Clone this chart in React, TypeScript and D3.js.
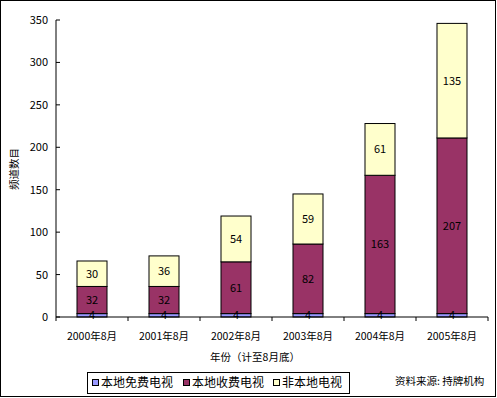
import React from "react";
import * as d3 from "d3";

const categories = ["2000年8月", "2001年8月", "2002年8月", "2003年8月", "2004年8月", "2005年8月"];
const seriesNames = ["本地免费电视", "本地收费电视", "非本地电视"];
const freeLocal = [4, 4, 4, 4, 4, 4];
const payLocal = [32, 32, 61, 82, 163, 207];
const nonLocal = [30, 36, 54, 59, 61, 135];
const yTicks = [0, 50, 100, 150, 200, 250, 300, 350];
const colors = ["#9999FF", "#993366", "#FFFFCC"];

const W = 497;
const H = 398;
const FONT = "'Noto Sans CJK SC', 'DejaVu Sans', sans-serif";

export default function App() {
  const x0 = 56, x1 = 488, yTop = 20, yBot = 317;
  const x = d3.scaleBand<string>().domain(categories).range([x0, x1]).paddingInner(0.5833).paddingOuter(0.2917);
  const xb = d3.scaleBand<string>().domain(categories).range([x0, x1]);
  const y = d3.scaleLinear().domain([0, 350]).range([yBot, yTop]);

  const rows = categories.map((c, i) => ({ cat: c, a: freeLocal[i], b: payLocal[i], c: nonLocal[i] }));
  const stack = d3.stack<any>().keys(["a", "b", "c"])(rows);

  return (
    <svg width={W} height={H} style={{ position: "absolute", left: 0, top: 0, background: "#fff" }} fontFamily={FONT}>
      <rect x={0.5} y={0.5} width={W - 2} height={H - 2} fill="#fff" stroke="#000" strokeWidth={1} />
      {/* bars */}
      {stack.map((layer, li) =>
        layer.map((d, i) => (
          <rect
            key={`${li}-${i}`}
            x={x(categories[i])!}
            y={y(d[1])}
            width={x.bandwidth()}
            height={y(d[0]) - y(d[1])}
            fill={colors[li]}
            stroke="#000"
            strokeWidth={1}
          />
        ))
      )}
      {/* labels */}
      {stack.map((layer, li) =>
        layer.map((d, i) => (
          <text
            key={`t${li}-${i}`}
            x={x(categories[i])! + x.bandwidth() / 2}
            y={(y(d[0]) + y(d[1])) / 2}
            dy="0.36em"
            textAnchor="middle"
            fontSize={11}
            fill="#000"
          >
            {d[1] - d[0]}
          </text>
        ))
      )}
      {/* y axis */}
      <line x1={x0} x2={x0} y1={yTop} y2={yBot} stroke="#000" />
      {yTicks.map((t) => (
        <g key={t}>
          <line x1={x0} x2={x0 + 4} y1={y(t)} y2={y(t)} stroke="#000" />
          <text x={48} y={y(t)} dy="0.36em" textAnchor="end" fontSize={11}>{t}</text>
        </g>
      ))}
      {/* x axis */}
      <line x1={x0} x2={x1} y1={yBot} y2={yBot} stroke="#000" />
      {categories.map((c, i) => (
        <g key={c}>
          <line x1={xb(c)!} x2={xb(c)!} y1={yBot} y2={yBot + 4} stroke="#000" />
          {i === categories.length - 1 && (
            <line x1={x1} x2={x1} y1={yBot} y2={yBot + 4} stroke="#000" />
          )}
          <text x={xb(c)! + xb.bandwidth() / 2} y={336} dy="0.36em" textAnchor="middle" fontSize={10.5}>{c}</text>
        </g>
      ))}
      <text x={255} y={357} dy="0.36em" textAnchor="middle" fontSize={10.5}>年份（计至8月底）</text>
      <text transform="translate(14,169) rotate(-90)" dy="0.36em" textAnchor="middle" fontSize={10.5}>频道数目</text>
      {/* legend */}
      <rect x={87.5} y={372.5} width={262} height={21} fill="#fff" stroke="#000" />
      {seriesNames.map((n, i) => {
        const lx = [92, 183, 273][i];
        return (
          <g key={n}>
            <rect x={lx + 0.5} y={379.5} width={6} height={6} fill={colors[i]} stroke="#000" />
            <text x={lx + 9} y={383} dy="0.36em" fontSize={12}>{n}</text>
          </g>
        );
      })}
      <text x={395} y={381} dy="0.36em" fontSize={10.5}>资料来源: 持牌机构</text>
    </svg>
  );
}
